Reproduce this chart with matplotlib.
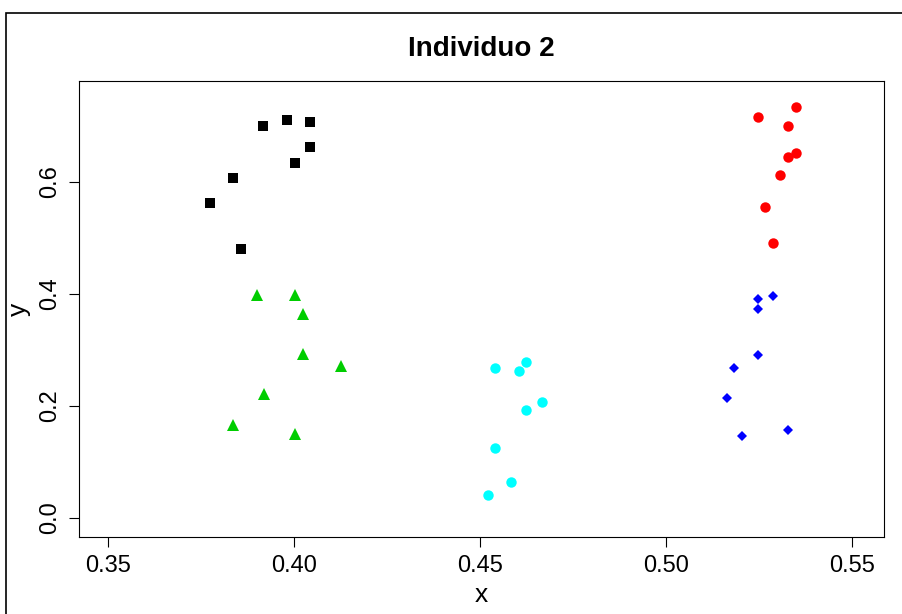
import numpy as np
import matplotlib.pyplot as plt
from matplotlib.patches import Rectangle

plt.rcParams['font.family'] = ['Liberation Sans', 'DejaVu Sans']

# grupo 1: cuadrados negros
x_negro = [0.3917, 0.3981, 0.4043, 0.4043, 0.4003, 0.3836, 0.3774, 0.3858]
y_negro = [0.700, 0.711, 0.707, 0.6625, 0.634, 0.607, 0.5625, 0.480]

# grupo 2: circulos rojos
x_rojo = [0.5349, 0.5247, 0.5328, 0.5349, 0.5328, 0.5306, 0.5266, 0.5288]
y_rojo = [0.734, 0.716, 0.700, 0.652, 0.645, 0.6125, 0.555, 0.491]

# grupo 3: triangulos verdes
x_verde = [0.3901, 0.4003, 0.4024, 0.4024, 0.4126, 0.3919, 0.3836, 0.4003]
y_verde = [0.398, 0.398, 0.364, 0.293, 0.271, 0.221, 0.166, 0.150]

# grupo 4: circulos cian
x_cian = [0.4540, 0.4605, 0.4624, 0.4667, 0.4624, 0.4540, 0.4583, 0.4522]
y_cian = [0.268, 0.2625, 0.2786, 0.207, 0.193, 0.125, 0.064, 0.041]

# grupo 5: rombos azules
x_azul = [0.5247, 0.5288, 0.5247, 0.5247, 0.5183, 0.5164, 0.5328, 0.5204]
y_azul = [0.391, 0.396, 0.373, 0.291, 0.268, 0.214, 0.157, 0.146]

xticks = [0.35, 0.40, 0.45, 0.50, 0.55]
yticks = [0.0, 0.2, 0.4, 0.6]

fig = plt.figure(figsize=(9.03, 6.14), dpi=100)
ax = fig.add_axes([79 / 903, 77 / 614, 805 / 903, 456 / 614])

ax.plot(x_negro, y_negro, 's', color='black', markersize=6.5, markeredgewidth=0)
ax.plot(x_rojo, y_rojo, 'o', color='#FF0000', markersize=7.5, markeredgewidth=0)
ax.plot(x_verde, y_verde, '^', color='#00CD00', markersize=8.5, markeredgewidth=0)
ax.plot(x_cian, y_cian, 'o', color='#00FFFF', markersize=7.5, markeredgewidth=0)
ax.plot(x_azul, y_azul, 'D', color='#0000FF', markersize=5.2, markeredgewidth=0)

ax.set_xlim(0.3422, 0.5586)
ax.set_ylim(-0.034, 0.780)
ax.set_xticks(xticks)
ax.set_xticklabels([f"{v:.2f}" for v in xticks])
ax.set_yticks(yticks)
ax.set_yticklabels([f"{v:.1f}" for v in yticks], rotation=90, va='center')
ax.tick_params(direction='out', length=7, width=0.8, labelsize=17, pad=6)
for s in ax.spines.values():
    s.set_linewidth(0.8)

ax.set_title("Individuo 2", fontsize=20, fontweight='bold', pad=18)
ax.set_xlabel("x", fontsize=19, labelpad=4)
ax.set_ylabel("y", fontsize=19, labelpad=6)

# marco exterior
fig.patches.append(Rectangle((6 / 903, -0.1), 1.2, 0.1 + 601 / 614,
                             transform=fig.transFigure, fill=False,
                             edgecolor='black', linewidth=1.2))

fig.savefig("out.png", dpi=100)
